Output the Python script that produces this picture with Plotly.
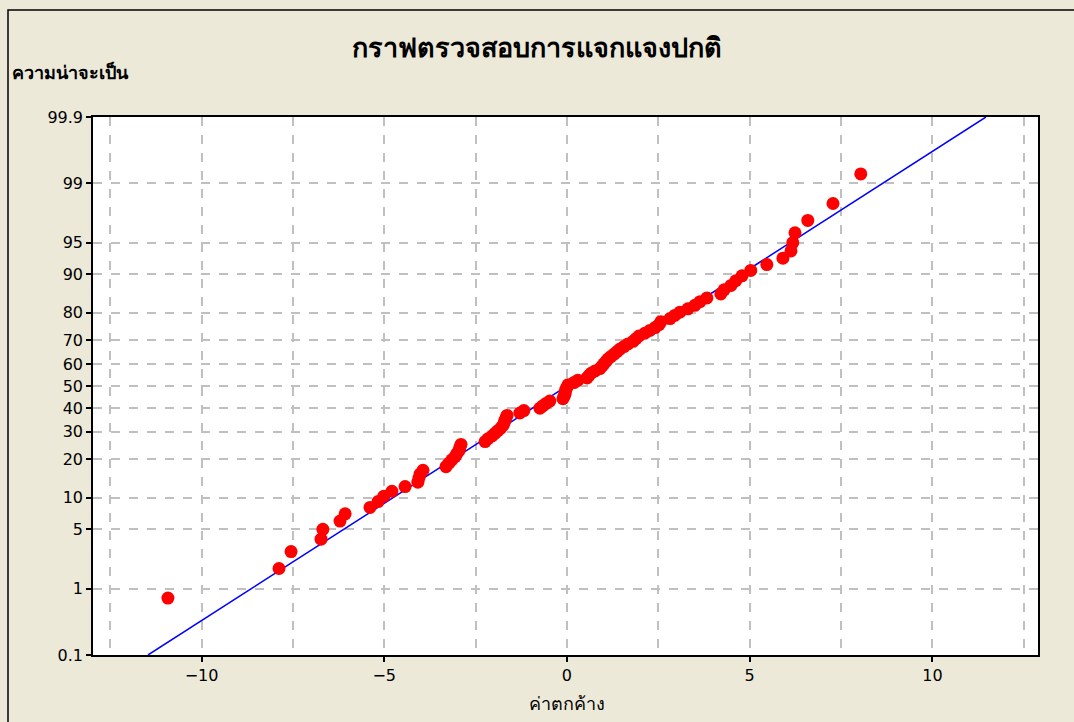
from statistics import NormalDist
import plotly.graph_objects as go

# Residuals (sorted ascending)
residuals = [
    -10.92, -7.88, -7.55, -6.73, -6.68, -6.21, -6.07, -5.39, -5.17, -5.01,
    -4.79, -4.43, -4.08, -4.05, -4.02, -3.94, -3.31, -3.23, -3.15, -3.06,
    -3.01, -2.95, -2.93, -2.90, -2.24, -2.16, -2.05, -1.97, -1.89, -1.81,
    -1.75, -1.72, -1.70, -1.67, -1.64, -1.29, -1.18, -0.74, -0.66, -0.57,
    -0.47, -0.11, -0.08, -0.05, -0.05, -0.03, 0.00, 0.03, 0.19, 0.30,
    0.55, 0.60, 0.66, 0.77, 0.90, 0.96, 1.01, 1.07, 1.12, 1.20,
    1.29, 1.37, 1.45, 1.56, 1.67, 1.81, 1.89, 1.97, 2.13, 2.27,
    2.41, 2.52, 2.57, 2.82, 2.95, 3.09, 3.31, 3.50, 3.64, 3.83,
    4.21, 4.30, 4.49, 4.62, 4.79, 5.03, 5.47, 5.91, 6.13, 6.18,
    6.24, 6.59, 7.28, 8.04,
]

# Fitted normal line parameters
fit_mean = 0.0
fit_sd = 3.71

# Probability axis ticks (percent)
prob_ticks = [0.1, 1, 5, 10, 20, 30, 40, 50, 60, 70, 80, 90, 95, 99, 99.9]
prob_labels = ["0.1", "1", "5", "10", "20", "30", "40", "50", "60", "70", "80", "90", "95", "99", "99.9"]

x_ticks = [-10, -5, 0, 5, 10]

title_text = "กราฟตรวจสอบการแจกแจงปกติ"
y_title = "ความน่าจะเป็น"
x_title = "ค่าตกค้าง"

nd = NormalDist()
n = len(residuals)
# median-rank plotting positions (Benard)
z_pts = [nd.inv_cdf((i + 1 - 0.3) / (n + 0.4)) for i in range(n)]
z_lo = nd.inv_cdf(prob_ticks[0] / 100)
z_hi = nd.inv_cdf(prob_ticks[-1] / 100)
tick_z = [nd.inv_cdf(p / 100) for p in prob_ticks]

line_z = [z_lo, z_hi]
line_x = [fit_mean + fit_sd * z for z in line_z]

FONT = "Tahoma, 'DejaVu Sans', 'Noto Sans', sans-serif"

fig = go.Figure()
fig.add_trace(go.Scatter(x=line_x, y=line_z, mode="lines",
                         line=dict(color="#0000FF", width=1.5),
                         showlegend=False, hoverinfo="skip"))
fig.add_trace(go.Scatter(x=residuals, y=z_pts, mode="markers",
                         marker=dict(color="#FF0000", size=13, line=dict(width=0)),
                         showlegend=False))

W, H = 1074, 722
L, R, T, B = 93, 36, 117, 67
pw, ph = W - L - R, H - T - B

def px_x(px):
    return (px - L) / pw

def px_y(py):
    return (H - B - py) / ph

fig.update_layout(
    width=W, height=H,
    margin=dict(l=L, r=R, t=T, b=B),
    paper_bgcolor="#ECE9D8",
    plot_bgcolor="#FFFFFF",
    font=dict(family=FONT, color="#000000", size=16),
    title=dict(text="<b>" + title_text + "</b>", x=0.5, xanchor="center",
               y=1 - 48 / H, yanchor="middle", font=dict(size=27)),
    xaxis=dict(range=[-12.97, 12.89], tickvals=x_ticks, ticks="outside", ticklen=5,
               tickwidth=1.5, tickcolor="#000", showline=True, linecolor="#000",
               linewidth=1.5, mirror=True, zeroline=False,
               showgrid=True, gridcolor="#C0C0C0", griddash="dash", gridwidth=1.5,
               minor=dict(dtick=2.5, tick0=0, showgrid=True, gridcolor="#C0C0C0",
                          griddash="dash", gridwidth=1.5, ticks=""),
               tickfont=dict(size=16)),
    yaxis=dict(range=[z_lo, z_hi], tickvals=tick_z, ticktext=prob_labels,
               ticks="outside", ticklen=5, tickwidth=1.5, tickcolor="#000",
               showline=True, linecolor="#000", linewidth=1.5, mirror=True,
               zeroline=False, showgrid=True, gridcolor="#C0C0C0",
               griddash="dash", gridwidth=1.5, tickfont=dict(size=16)),
    annotations=[
        dict(text="<b>" + y_title + "</b>", xref="paper", yref="paper",
             x=px_x(10), y=px_y(72), xanchor="left", yanchor="middle",
             showarrow=False, font=dict(size=18)),
        dict(text=x_title, xref="x", yref="paper", x=0, y=px_y(703),
             xanchor="center", yanchor="middle", showarrow=False,
             font=dict(size=18)),
    ],
    shapes=[
        dict(type="path", xref="paper", yref="paper",
             path="M {} {} L {} {} L {} {}".format(px_x(8), px_y(730), px_x(8), px_y(10),
                                                    px_x(1080), px_y(10)),
             line=dict(color="#000000", width=1.5)),
    ],
)

fig.write_html("out.html")
